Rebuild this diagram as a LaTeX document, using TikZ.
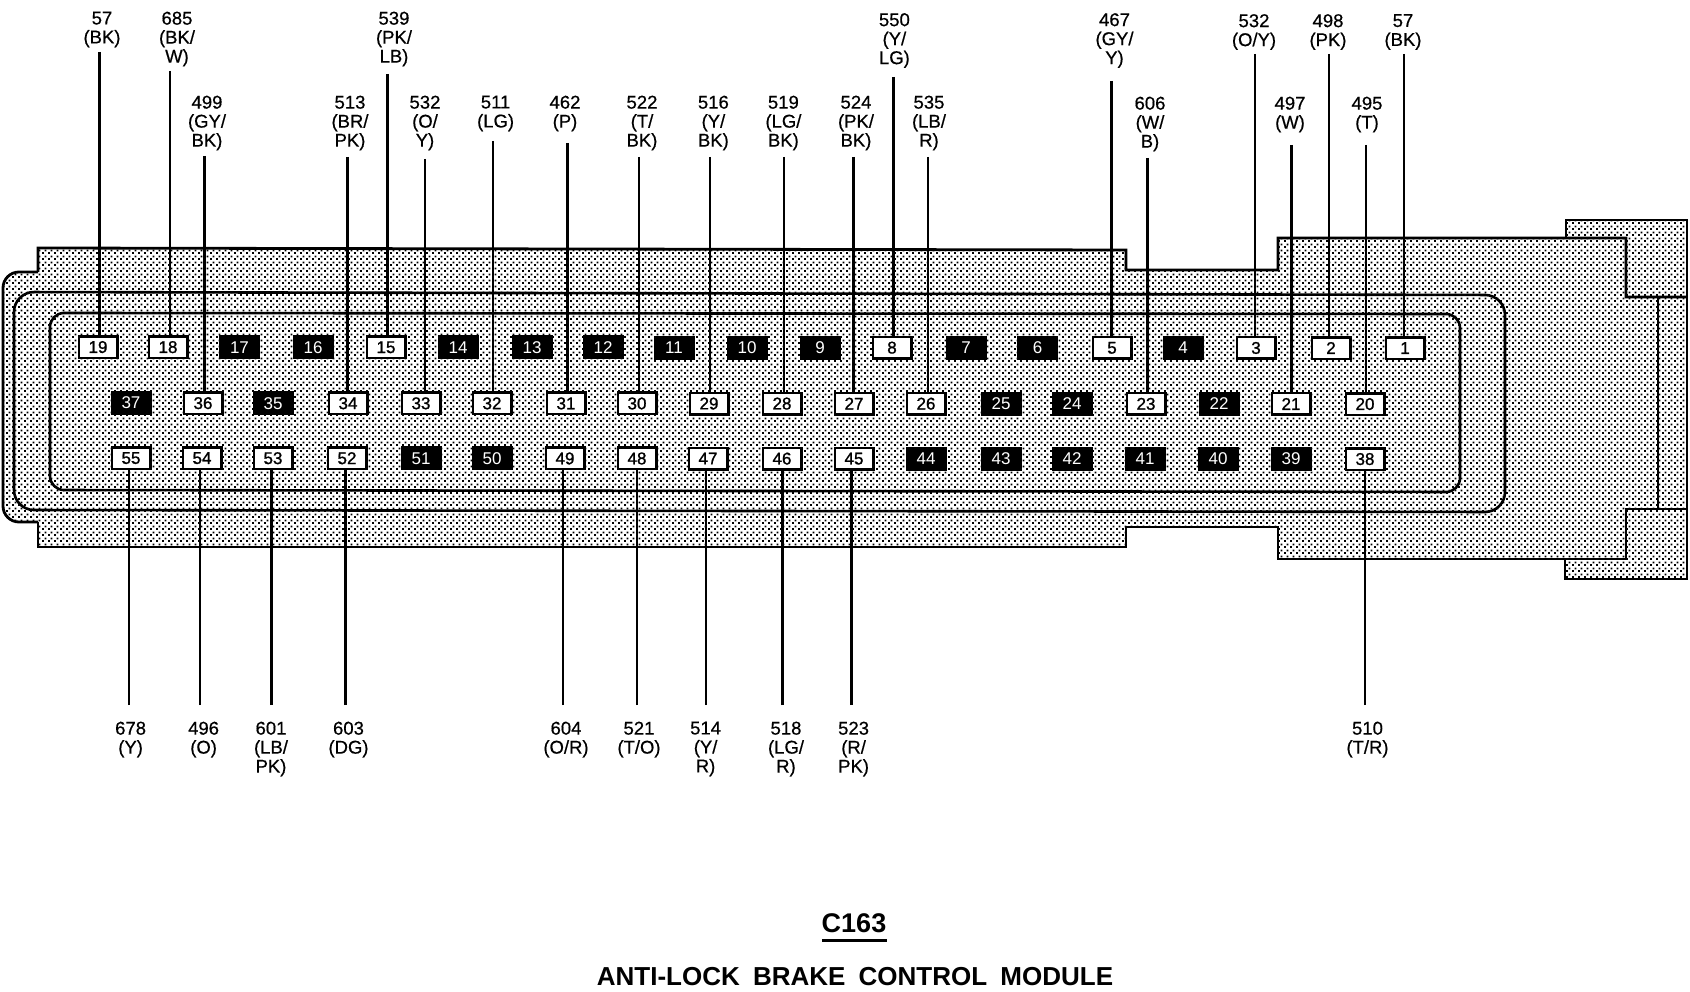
\documentclass[tikz,border=0pt]{standalone}
\usepackage{fontspec}
\setmainfont{Liberation Sans}
\newfontfamily\labfont[FakeBold=0.5]{Liberation Sans}
\newfontfamily\pinfont[FakeBold=1.2]{Liberation Sans}
\usetikzlibrary{patterns}
\pgfdeclarepatternformonly{stip}{\pgfqpoint{0pt}{0pt}}{\pgfqpoint{6pt}{6pt}}{\pgfqpoint{6pt}{6pt}}{%
  \pgfpathrectangle{\pgfqpoint{0pt}{0pt}}{\pgfqpoint{2.2pt}{2.2pt}}%
  \pgfpathrectangle{\pgfqpoint{3pt}{3pt}}{\pgfqpoint{2.2pt}{2.2pt}}%
  \pgfusepath{fill}}
\tikzset{
  pinwhite/.style={draw=black,fill=white,line width=2.5pt,minimum width=38.5pt,minimum height=21.5pt,inner sep=0pt,font=\pinfont\fontsize{17}{17}\selectfont},
  pinblack/.style={draw=black,fill=black,text=white,line width=2.5pt,minimum width=38.5pt,minimum height=21.5pt,inner sep=0pt,font=\fontsize{17}{17}\selectfont},
  wire/.style={line width=2.5pt,line cap=butt},
  outline/.style={line width=2.8pt,line join=miter},
  lab/.style={anchor=north,align=center,inner sep=0pt,font=\labfont\fontsize{18.5}{19}\selectfont},
}
\newcommand{\upwire}[7]{% name, label x, label top, text, wire x, wire y, pin
  \node[lab] (l#1) at (#2,#3) {#4};
  \coordinate (w#1) at (#5,#6);
  \draw[wire] (w#1) -- (w#1 |- p#7.north);}
\newcommand{\downwire}[6]{% name, label x, text, wire x, pin
  \node[lab] (l#1) at (#2,721.5) {#3};
  \coordinate (w#1) at (#4,705);
  \draw[wire] (w#1) -- (w#1 |- p#5.south);}
\begin{document}
\begin{tikzpicture}[x=1pt,y=-1pt]
\useasboundingbox (0,0) rectangle (1690,992);
% body
\path[pattern=stip,pattern color=black]
  (38,248) -- (1126,250) -- (1126,270) -- (1278,270) -- (1278,238) -- (1566,238) -- (1566,220)
  -- (1687,220) -- (1687,579) -- (1565,579) -- (1565,559) -- (1278,559) -- (1278,527) -- (1126,527)
  -- (1126,547) -- (38,547) -- (38,522) [rounded corners=16] -- (3,522) -- (3,272) [sharp corners] -- (38,272) -- cycle;
\draw[outline]
  (38,272) -- (38,248) -- (1126,250) -- (1126,270) -- (1278,270) -- (1278,238) -- (1626,238) -- (1626,297) -- (1687,297);
\draw[outline] (1566,238) -- (1566,220) -- (1687,220) -- (1687,579) -- (1565,579) -- (1565,559);
\draw[outline] (1687,509) -- (1626,509) -- (1626,559) -- (1278,559) -- (1278,527) -- (1126,527) -- (1126,547) -- (38,547) -- (38,522);
\draw[outline] (1658,297) -- (1658,509);
\draw[outline,rounded corners=16] (38,522) -- (3,522) -- (3,272) -- (38,272);
\draw[outline,line width=2.6pt,rounded corners=20] (14,292) -- (1505,295) -- (1505,512) -- (14,510) -- cycle;
\draw[outline,line width=2.6pt,rounded corners=14] (50,313) -- (1460,314) -- (1460,492) -- (50,490) -- cycle;
% pins
\foreach \n/\x in {19/98,18/168,15/386,8/892,5/1112,3/1256,2/1331,1/1405}
  \node[pinwhite] (p\n) at (\x,{347+\x/1300}) {\n};
\foreach \n/\x in {17/239.5,16/313,14/458,13/532,12/603,11/674,10/747,9/820,7/966,6/1037.5,4/1183}
  \node[pinblack] (p\n) at (\x,{347+\x/1300}) {\n};
\foreach \n/\x in {36/203,34/348,33/421,32/492,31/566,30/637,29/709,28/782,27/854,26/926,23/1146,21/1291,20/1365}
  \node[pinwhite] (p\n) at (\x,{403+\x/1300}) {\n};
\foreach \n/\x in {37/131,35/273,25/1001,24/1072,22/1219}
  \node[pinblack] (p\n) at (\x,{403+\x/1300}) {\n};
\foreach \n/\x in {55/131,54/202,53/273,52/347,49/565,48/637,47/708,46/782,45/854,38/1365}
  \node[pinwhite] (p\n) at (\x,{458+\x/1300}) {\n};
\foreach \n/\x in {51/421,50/492,44/926,43/1001,42/1072,41/1145,40/1218,39/1291}
  \node[pinblack] (p\n) at (\x,{458+\x/1300}) {\n};
% top wires and labels
\upwire{a}{102}{11.5}{57\\(BK)}{99.5}{52}{19}
\upwire{b}{177}{11.5}{685\\(BK/\\W)}{170}{71}{18}
\upwire{c}{207}{95.5}{499\\(GY/\\BK)}{204.7}{156}{36}
\upwire{d}{350}{95.5}{513\\(BR/\\PK)}{347.5}{157}{34}
\upwire{e}{394}{11.5}{539\\(PK/\\LB)}{387.7}{74}{15}
\upwire{f}{425}{95.5}{532\\(O/\\Y)}{425}{159}{33}
\upwire{g}{495.6}{95.5}{511\\(LG)}{493}{141}{32}
\upwire{h}{565}{95.5}{462\\(P)}{567.5}{143}{31}
\upwire{i}{642}{95.5}{522\\(T/\\BK)}{639}{157}{30}
\upwire{j}{713.4}{95.5}{516\\(Y/\\BK)}{710}{157}{29}
\upwire{k}{783.4}{95.5}{519\\(LG/\\BK)}{784}{157}{28}
\upwire{m}{856}{95.5}{524\\(PK/\\BK)}{853.5}{157}{27}
\upwire{n}{894.4}{13}{550\\(Y/\\LG)}{893.7}{77}{8}
\upwire{o}{929}{95.5}{535\\(LB/\\R)}{928}{157}{26}
\upwire{q}{1114.5}{13}{467\\(GY/\\Y)}{1111.4}{81}{5}
\upwire{r}{1150}{96.5}{606\\(W/\\B)}{1147.7}{158}{23}
\upwire{s}{1254}{14}{532\\(O/Y)}{1255}{54}{3}
\upwire{t}{1290}{96.5}{497\\(W)}{1291.7}{145}{21}
\upwire{u}{1328}{14}{498\\(PK)}{1329}{54}{2}
\upwire{v}{1367}{96.5}{495\\(T)}{1366}{145}{20}
\upwire{x}{1403}{14}{57\\(BK)}{1404}{54}{1}
% bottom wires and labels
\downwire{A}{130.6}{678\\(Y)}{129}{55}{}
\downwire{B}{203.6}{496\\(O)}{200}{54}{}
\downwire{C}{271}{601\\(LB/\\PK)}{271.4}{53}{}
\downwire{D}{348.5}{603\\(DG)}{345.4}{52}{}
\downwire{E}{566}{604\\(O/R)}{563}{49}{}
\downwire{F}{639}{521\\(T/O)}{637}{48}{}
\downwire{G}{705.6}{514\\(Y/\\R)}{706}{47}{}
\downwire{H}{786}{518\\(LG/\\R)}{782.7}{46}{}
\downwire{I}{853.6}{523\\(R/\\PK)}{851.5}{45}{}
\downwire{J}{1367.5}{510\\(T/R)}{1365}{38}{}
% title
\node[inner sep=0pt,font=\fontsize{27}{27}\selectfont\bfseries] (title) at (854,923) {C163};
\coordinate (ul) at (822,940);
\coordinate (ur) at (887,940);
\draw[line width=3pt] (ul) -- (ur);
\node[inner sep=0pt,font=\fontsize{26}{26}\selectfont\bfseries] (sub) at (855,977) {ANTI-LOCK\hspace{6pt} BRAKE\hspace{6pt} CONTROL\hspace{6pt} MODULE};
\end{tikzpicture}
\end{document}
